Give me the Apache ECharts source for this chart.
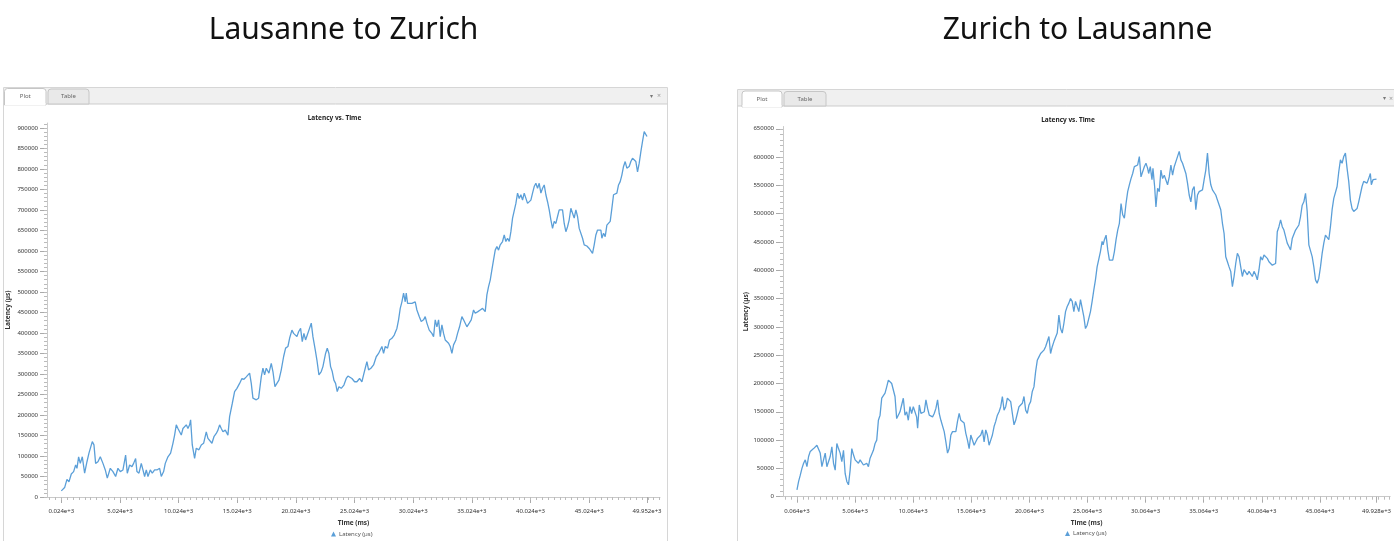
<!DOCTYPE html>
<html>
<head>
<meta charset="utf-8">
<script src="https://cdn.jsdelivr.net/npm/echarts@6/dist/echarts.min.js"></script>
<style>
html,body{margin:0;padding:0;background:#fff;}
#c{width:1394px;height:541px;}
</style>
</head>
<body>
<div id="c"></div>
<script>
// ---------- Lausanne to Zurich ----------
const lzTime = [24,308,507,677,876,1075,1246,1359,1501,1643,1814,2013,2212,2382,2524,2666,2808,2950,3149,3348,3575,3774,3945,4200,4428,4655,4854,5053,5280,5507,5649,5848,6047,6189,6359,6473,6644,6842,6984,7127,7269,7411,7609,7780,7979,8178,8405,8547,8746,8888,9115,9342,9541,9683,9825,9968,10110,10252,10394,10536,10678,10820,10962,11047,11189,11388,11530,11757,11956,12155,12382,12524,12666,12865,13036,13235,13377,13519,13661,13803,14002,14229,14371,14598,14797,14996,15223,15422,15593,15792,15934,16076,16218,16360,16502,16644,16843,17070,17212,17354,17496,17723,17922,18064,18235,18405,18576,18775,18973,19144,19343,19485,19684,19826,19968,20110,20252,20422,20564,20706,20848,20991,21133,21332,21474,21672,21814,21985,22184,22326,22553,22695,22837,22979,23121,23263,23405,23547,23689,23888,24115,24314,24457,24599,24798,25025,25223,25450,25649,25791,25933,26076,26218,26416,26644,26871,27070,27212,27354,27496,27638,27837,28007,28206,28405,28632,28774,28917,29059,29201,29343,29428,29542,29712,29911,30195,30337,30536,30706,30905,31047,31189,31388,31615,31758,31900,32042,32184,32326,32468,32610,32752,32894,33036,33178,33320,33462,33661,33803,33973,34172,34314,34456,34599,34797,34968,35167,35309,35536,35735,35934,36161,36303,36445,36587,36729,36871,37013,37155,37297,37440,37638,37780,37922,38065,38207,38349,38491,38633,38775,38917,39059,39201,39343,39485,39627,39769,39911,40053,40195,40337,40479,40621,40763,40906,41048,41190,41332,41474,41616,41758,41900,42042,42184,42326,42468,42610,42752,42894,43036,43178,43320,43462,43604,43747,43889,44031,44173,44315,44457,44599,44826,45025,45167,45309,45451,45593,45735,45877,46019,46105,46247,46389,46531,46673,46815,46957,47099,47241,47383,47525,47667,47809,47951,48093,48235,48434,48576,48718,48860,49002,49145,49287,49429,49571,49713,49952];
const lzLatency = [15000,23000,43000,37000,56000,62000,78000,70000,98000,82000,98000,58000,86000,107000,111000,135000,127000,82000,86000,98000,82000,66000,46000,70000,62000,50000,70000,62000,66000,102000,58000,78000,74000,82000,94000,62000,58000,82000,66000,50000,66000,50000,66000,58000,66000,66000,70000,50000,62000,82000,98000,107000,131000,151000,176000,167000,159000,151000,167000,163000,176000,167000,176000,188000,127000,94000,119000,115000,127000,131000,159000,143000,147000,131000,147000,155000,163000,176000,167000,159000,163000,151000,196000,228000,257000,265000,277000,289000,287000,293000,289000,302000,277000,241000,245000,237000,241000,293000,314000,298000,314000,302000,326000,306000,269000,277000,285000,310000,342000,363000,367000,387000,407000,399000,403000,391000,403000,411000,379000,399000,383000,395000,407000,424000,391000,359000,334000,298000,306000,318000,350000,363000,350000,318000,306000,285000,277000,257000,269000,265000,273000,289000,295000,298000,289000,281000,281000,289000,281000,298000,314000,330000,310000,314000,322000,342000,350000,346000,367000,350000,367000,363000,383000,387000,395000,411000,432000,460000,476000,497000,476000,497000,472000,476000,472000,476000,456000,440000,428000,432000,440000,424000,407000,399000,391000,432000,415000,432000,391000,420000,399000,383000,379000,375000,367000,350000,371000,383000,399000,415000,440000,432000,432000,415000,424000,432000,456000,448000,452000,456000,460000,452000,493000,513000,529000,554000,578000,602000,611000,602000,615000,623000,639000,623000,631000,623000,647000,680000,684000,716000,741000,728000,737000,724000,741000,741000,716000,712000,724000,741000,757000,765000,753000,765000,741000,753000,761000,737000,720000,700000,676000,655000,672000,667000,684000,700000,696000,700000,667000,647000,659000,676000,704000,692000,680000,700000,684000,655000,651000,631000,615000,612000,606000,602000,594000,615000,639000,651000,655000,651000,631000,643000,635000,663000,659000,672000,704000,737000,734000,741000,761000,769000,785000,806000,818000,802000,806000,818000,826000,822000,818000,793000,814000,842000,867000,891000,879000];
const lzXTicks = [24,5024,10024,15024,20024,25024,30024,35024,40024,45024,49952];
const lzYTicks = [0,50000,100000,150000,200000,250000,300000,350000,400000,450000,500000,550000,600000,650000,700000,750000,800000,850000,900000];

// ---------- Zurich to Lausanne ----------
const zlTime = [64,207,350,493,636,779,922,1065,1208,1351,1494,1637,1780,1923,2066,2209,2352,2495,2638,2781,2924,3067,3210,3353,3496,3639,3782,3925,4068,4211,4354,4497,4640,4783,4926,5069,5212,5355,5498,5641,5784,5927,6070,6213,6356,6499,6642,6785,6928,7071,7214,7357,7500,7643,7786,7929,8072,8215,8358,8501,8644,8787,8930,9073,9216,9359,9502,9645,9788,9931,10074,10217,10360,10446,10589,10732,10875,11018,11161,11304,11447,11590,11733,11876,12019,12162,12305,12448,12591,12734,12877,13020,13163,13306,13449,13592,13735,13878,14021,14164,14307,14450,14593,14736,14879,15022,15165,15308,15451,15594,15737,15880,16023,16166,16309,16452,16595,16738,16881,17024,17167,17310,17453,17596,17739,17882,18025,18168,18311,18454,18597,18740,18883,19026,19169,19312,19455,19598,19741,19884,20027,20170,20313,20456,20599,20742,20885,21028,21171,21314,21457,21600,21743,21886,22029,22172,22315,22458,22601,22744,22887,23030,23173,23316,23459,23602,23745,23888,24031,24174,24317,24460,24603,24746,24889,25032,25175,25318,25461,25604,25747,25890,26033,26176,26319,26405,26519,26662,26805,26948,27091,27234,27377,27520,27663,27806,27949,28092,28235,28378,28521,28664,28807,28950,29093,29236,29379,29522,29665,29808,29951,30094,30237,30323,30466,30609,30695,30838,30952,31095,31238,31381,31524,31667,31810,31953,32096,32239,32382,32525,32668,32811,32954,33097,33240,33383,33526,33669,33812,33955,34098,34241,34384,34527,34670,34813,34956,35099,35242,35385,35528,35671,35814,35957,36100,36243,36386,36529,36672,36815,36958,37101,37244,37387,37530,37673,37816,37959,38102,38245,38388,38531,38674,38817,38960,39103,39246,39389,39532,39675,39818,39961,40104,40247,40390,40533,40676,40819,40962,41105,41248,41391,41534,41677,41820,41963,42106,42249,42392,42535,42678,42821,42964,43107,43250,43393,43536,43679,43822,43965,44108,44251,44394,44537,44680,44823,44966,45109,45252,45395,45538,45681,45824,45967,46110,46253,46396,46539,46682,46825,46968,47111,47254,47397,47540,47683,47826,47969,48112,48255,48398,48541,48684,48827,48970,49113,49256,49399,49485,49628,49928];
const zlLatency = [12000,27000,38000,50000,59000,65000,53000,71000,80000,82000,85000,82000,91000,94000,77000,53000,65000,77000,53000,56000,71000,88000,59000,47000,94000,85000,77000,62000,82000,41000,27000,21000,47000,85000,74000,65000,68000,59000,65000,65000,56000,53000,59000,53000,68000,65000,82000,94000,100000,135000,144000,174000,171000,183000,194000,206000,209000,200000,197000,177000,138000,138000,150000,162000,174000,144000,150000,135000,159000,147000,159000,162000,141000,121000,162000,147000,150000,150000,171000,156000,144000,141000,141000,147000,156000,171000,147000,135000,133000,115000,97000,77000,85000,109000,115000,115000,115000,133000,147000,135000,138000,130000,112000,100000,85000,109000,106000,91000,97000,103000,106000,109000,118000,97000,118000,109000,91000,100000,109000,124000,133000,144000,150000,159000,177000,153000,159000,174000,177000,168000,147000,127000,135000,147000,159000,162000,165000,177000,153000,147000,162000,168000,186000,194000,221000,241000,247000,253000,250000,259000,265000,268000,283000,253000,265000,274000,277000,289000,321000,297000,289000,306000,327000,336000,342000,350000,345000,327000,345000,348000,327000,348000,333000,318000,297000,303000,306000,327000,345000,365000,383000,406000,406000,433000,451000,445000,454000,462000,436000,418000,421000,418000,433000,454000,471000,483000,518000,498000,492000,518000,539000,551000,562000,571000,583000,583000,586000,601000,565000,565000,583000,589000,580000,571000,583000,560000,580000,548000,512000,545000,539000,577000,562000,568000,565000,551000,565000,586000,568000,583000,592000,595000,610000,595000,589000,592000,571000,554000,533000,521000,542000,548000,507000,533000,539000,536000,542000,560000,577000,607000,571000,551000,542000,539000,533000,524000,521000,507000,483000,465000,424000,415000,406000,398000,371000,389000,412000,430000,424000,406000,389000,401000,401000,392000,398000,395000,389000,398000,392000,383000,401000,424000,418000,427000,427000,421000,415000,412000,409000,406000,412000,468000,477000,489000,477000,471000,474000,448000,442000,436000,456000,459000,471000,468000,480000,495000,515000,521000,536000,504000,445000,442000,424000,406000,383000,377000,386000,406000,430000,448000,462000,465000,454000,477000,507000,527000,527000,548000,574000,595000,589000,601000,607000,580000,557000,524000,509000,504000,507000,509000,521000,524000,548000,557000,554000,554000,562000,571000,551000,560000,561000];
const zlXTicks = [64,5064,10064,15064,20064,25064,30064,35064,40064,45064,49928];
const zlYTicks = [0,50000,100000,150000,200000,250000,300000,350000,400000,450000,500000,550000,600000,650000];

const seriesName = 'Latency (µs)';
const chartTitles = ['Lausanne to Zurich', 'Zurich to Lausanne'];
const plotTitle = 'Latency vs. Time';

// ---------- styling ----------
const LINE = '#5b9fd8';
const AXIS = '#c9c9c9';
const LABEL = '#333';
const FONT = '"Noto Sans", "Liberation Sans", sans-serif';

function minorList(majors, step, lo, hi) {
  const out = [];
  const start = majors[0];
  for (let v = start - Math.floor((start - lo) / step) * step; v <= hi; v += step) out.push(v);
  return out;
}
const fmtX = v => (v / 1000).toFixed(3) + 'e+3';
const fmtY = v => String(Math.round(v));

const panels = [
  { grid: {left: 47, top: 123, width: 613, height: 374}, xMin: -1195, xMax: 51060, yMax: 912000,
    xTicks: lzXTicks, yTicks: lzYTicks, time: lzTime, lat: lzLatency, nameGap: 35 },
  { grid: {left: 783, top: 126.5, width: 609, height: 370.2}, xMin: -1137, xMax: 51103, yMax: 654000,
    xTicks: zlXTicks, yTicks: zlYTicks, time: zlTime, lat: zlLatency, nameGap: 33 }
];

const grids = [], xAxes = [], yAxes = [], series = [];
panels.forEach((p, i) => {
  grids.push(Object.assign({containLabel: false}, p.grid));
  xAxes.push({
    type: 'value', gridIndex: i, min: p.xMin, max: p.xMax, position: 'bottom',
    axisLine: {onZero: false, lineStyle: {color: AXIS, width: 1}},
    axisTick: {show: true, customValues: p.xTicks, length: 6, lineStyle: {color: '#aaa'}},
    axisLabel: {customValues: p.xTicks, formatter: fmtX, fontSize: 6, color: LABEL, margin: 11.5, fontFamily: FONT},
    splitLine: {show: false},
    name: 'Time (ms)', nameLocation: 'middle', nameGap: 23,
    nameTextStyle: {fontSize: 6.5, fontWeight: 'bold', color: LABEL, fontFamily: FONT}
  });
  xAxes.push({
    type: 'value', gridIndex: i, min: p.xMin, max: p.xMax, position: 'bottom',
    axisLine: {show: false, onZero: false},
    axisTick: {show: true, customValues: minorList(p.xTicks, 500, p.xMin, p.xMax), length: 3, lineStyle: {color: '#bbb'}},
    axisLabel: {show: false}, splitLine: {show: false}
  });
  yAxes.push({
    type: 'value', gridIndex: i, min: 0, max: p.yMax, position: 'left',
    axisLine: {show: true, onZero: false, lineStyle: {color: AXIS, width: 1}},
    axisTick: {show: true, customValues: p.yTicks, length: 7, lineStyle: {color: '#aaa'}},
    axisLabel: {customValues: p.yTicks, formatter: fmtY, fontSize: 6, color: LABEL, margin: 9, fontFamily: FONT},
    splitLine: {show: false},
    name: seriesName, nameLocation: 'middle', nameGap: p.nameGap, nameRotate: 90,
    nameTextStyle: {fontSize: 6.5, fontWeight: 'bold', color: LABEL, fontFamily: FONT}
  });
  yAxes.push({
    type: 'value', gridIndex: i, min: 0, max: p.yMax, position: 'left',
    axisLine: {show: false, onZero: false},
    axisTick: {show: true, customValues: minorList(p.yTicks, 10000, 0, p.yMax), length: 3, lineStyle: {color: '#bbb'}},
    axisLabel: {show: false}, splitLine: {show: false}
  });
  series.push({
    type: 'line', name: seriesName, xAxisIndex: i * 2, yAxisIndex: i * 2,
    data: p.time.map((t, k) => [t, p.lat[k]]),
    showSymbol: false, symbol: 'triangle', symbolSize: 5,
    lineStyle: {color: LINE, width: 1.3}, itemStyle: {color: LINE},
    smooth: false, animation: false
  });
});

function txt(x, y, text, font, fill, align) {
  return {type: 'text', x: x, y: y, z: 5,
    style: {text: text, font: font, fill: fill, textAlign: align || 'center', align: align || 'center',
            textVerticalAlign: 'middle', verticalAlign: 'middle'}};
}
function panelChrome(x0, x1, yTop, tabTop, barBottom, plotTab, tableTab, textY) {
  const w = x1 - x0;
  return [
    {type: 'rect', z: -10, shape: {x: x0, y: yTop, width: w, height: 560 - yTop},
      style: {fill: '#fff', stroke: '#d6d6d6', lineWidth: 1}},
    {type: 'rect', z: -9, shape: {x: x0 + 0.5, y: yTop + 0.5, width: w - 1, height: barBottom - yTop - 0.5},
      style: {fill: '#f0f0f0'}},
    {type: 'line', z: -8, shape: {x1: x0, y1: barBottom, x2: x1, y2: barBottom}, style: {stroke: '#cdcdcd', lineWidth: 1}},
    {type: 'rect', z: -7, shape: {x: tableTab[0], y: tabTop + 0.5, width: tableTab[1] - tableTab[0], height: barBottom - tabTop - 0.5, r: [3, 3, 0, 0]},
      style: {fill: '#e9e9e9', stroke: '#c6c6c6', lineWidth: 1}},
    {type: 'rect', z: -7, shape: {x: plotTab[0], y: tabTop, width: plotTab[1] - plotTab[0], height: barBottom - tabTop + 1, r: [3, 3, 0, 0]},
      style: {fill: '#fff', stroke: '#c6c6c6', lineWidth: 1}},
    {type: 'rect', z: -6, shape: {x: plotTab[0] + 0.5, y: barBottom - 1, width: plotTab[1] - plotTab[0] - 1, height: 2.5},
      style: {fill: '#fff'}},
    txt((plotTab[0] + plotTab[1]) / 2, textY, 'Plot', '6px ' + FONT, '#666'),
    txt((tableTab[0] + tableTab[1]) / 2, textY, 'Table', '6px ' + FONT, '#666')
  ];
}

const graphic = [].concat(
  panelChrome(3.5, 667.5, 87.5, 88.5, 104, [4.5, 46], [48, 89], 96.5),
  panelChrome(737.5, 1400, 89.5, 91, 106, [742, 782], [784, 826], 99),
  [
    txt(651, 96, '▾', '6px ' + FONT, '#777'),
    txt(659, 96, '×', '7px ' + FONT, '#999'),
    txt(1384, 98.5, '▾', '6px ' + FONT, '#777'),
    txt(1391, 98.5, '×', '7px ' + FONT, '#999'),
    txt(343.5, 30.5, chartTitles[0], '30px ' + FONT, '#111'),
    txt(1077.5, 30.5, chartTitles[1], '30px ' + FONT, '#111'),
    txt(334.5, 118.5, plotTitle, 'bold 6.5px ' + FONT, '#222'),
    txt(1068, 120.5, plotTitle, 'bold 6.5px ' + FONT, '#222')
  ]
);

const chart = echarts.init(document.getElementById('c'));
chart.setOption({
  animation: false,
  backgroundColor: '#fff',
  grid: grids,
  xAxis: xAxes,
  yAxis: yAxes,
  series: series,
  graphic: graphic,
  legend: [
    {data: [seriesName], left: 331, top: 531, icon: 'triangle', itemWidth: 5, itemHeight: 5, itemGap: 2,
     textStyle: {fontSize: 6, color: '#555', fontFamily: FONT, padding: [0, 0, 0, -2]}, padding: 0},
    {data: [seriesName], left: 1065, top: 530.5, icon: 'triangle', itemWidth: 5, itemHeight: 5, itemGap: 2,
     textStyle: {fontSize: 6, color: '#555', fontFamily: FONT, padding: [0, 0, 0, -2]}, padding: 0}
  ]
});
</script>
</body>
</html>
